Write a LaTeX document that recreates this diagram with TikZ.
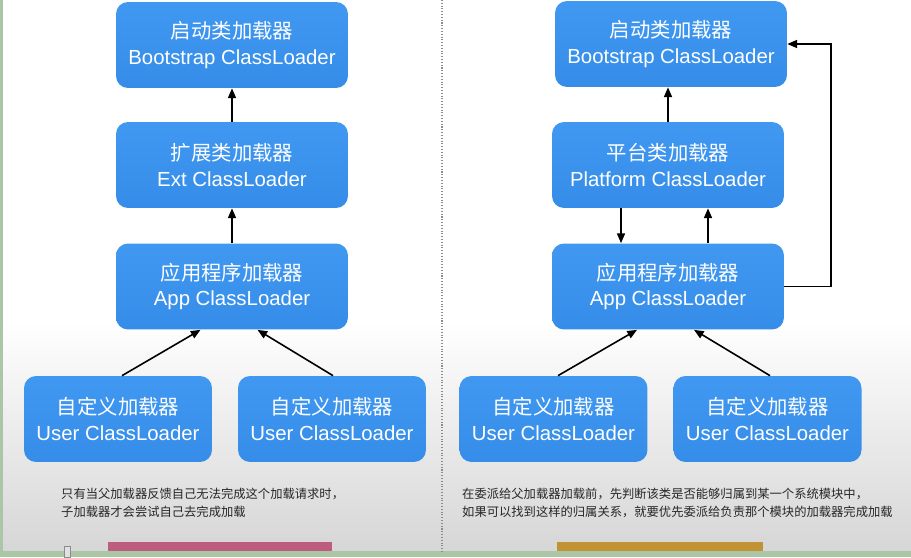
\documentclass[tikz,border=0pt]{standalone}
\usepackage{fontspec}
\setmainfont{Liberation Sans}
\newfontfamily\cjk{Noto Sans CJK SC}
\usetikzlibrary{arrows.meta, calc}
\definecolor{loaderblue}{RGB}{64,152,241}
\definecolor{loaderblueb}{RGB}{54,141,233}
\definecolor{framegreen}{RGB}{170,198,165}
\definecolor{barpink}{RGB}{190,92,126}
\definecolor{barorange}{RGB}{194,147,52}
\tikzset{
  loader/.style={
    rounded corners=12*0.02cm,
    top color=loaderblue, bottom color=loaderblueb, draw=none,
    text=white, align=center,
    minimum width=4.64cm, minimum height=1.72cm,
    font=\fontsize{11.6}{14.7}\selectfont
  },
  userloader/.style={loader, minimum width=3.76cm},
  delegate/.style={-{Triangle[length=5.5pt,width=4.5pt]}, line width=0.9pt, black},
  note/.style={anchor=west, align=left, text=black!85,
    font=\cjk\fontsize{7}{10.2}\selectfont}
}

\begin{document}
\begin{tikzpicture}[x=0.02cm, y=-0.02cm]
    \useasboundingbox (0,0) rectangle (911,557);
    % Background
    \fill[white] (0,0) rectangle (911,320);
    \shade[top color=white, bottom color=black!16] (0,320) rectangle (911,551);
    \fill[framegreen] (0,0) rectangle (3,557);
    \fill[framegreen] (0,551) rectangle (911,557);
    \draw[densely dotted, black!45, line width=0.6pt] (442,0) -- (442,551);
    \fill[barpink] (108,542) rectangle (332,551);
    \fill[barorange] (557,542) rectangle (763,551);
    \draw[black!45, fill=black!12] (64,546) rectangle (70,557);

    % Left: parent delegation
    \node[loader] (bootL) at (232,45) {{\cjk 启动类加载器}\\Bootstrap ClassLoader};
    \node[loader] (extL) at (232,165) {{\cjk 扩展类加载器}\\Ext ClassLoader};
    \node[loader] (appL) at (232,286.5) {{\cjk 应用程序加载器}\\App ClassLoader};
    \node[userloader] (userLa) at (118,419) {{\cjk 自定义加载器}\\User ClassLoader};
    \node[userloader] (userLb) at (332,419) {{\cjk 自定义加载器}\\User ClassLoader};

    \draw[delegate] (extL) -- (bootL);
    \draw[delegate] (appL) -- (extL);
    \draw[delegate] ($(userLa.north)+(4,0)$) -- ($(appL.south)+(-31.5,0)$);
    \draw[delegate] ($(userLb.north)+(1,0)$) -- ($(appL.south)+(25.5,0)$);

    \node[note] (noteL) at (55,503) {只有当父加载器反馈自己无法完成这个加载请求时，\\子加载器才会尝试自己去完成加载};

    % Right: module aware delegation
    \node[loader] (bootR) at (671,44) {{\cjk 启动类加载器}\\Bootstrap ClassLoader};
    \node[loader] (platR) at (668,165) {{\cjk 平台类加载器}\\Platform ClassLoader};
    \node[loader] (appR) at (668,286.5) {{\cjk 应用程序加载器}\\App ClassLoader};
    \node[userloader] (userRa) at (553.5,419) {{\cjk 自定义加载器}\\User ClassLoader};
    \node[userloader] (userRb) at (767.5,419) {{\cjk 自定义加载器}\\User ClassLoader};

    \draw[delegate] (platR.north) -- (platR.north |- bootR.south);
    \draw[delegate] ($(platR.south)+(-47,0)$) -- ($(appR.north)+(-47,0)$);
    \draw[delegate] ($(appR.north)+(40,0)$) -- ($(platR.south)+(40,0)$);
    \coordinate (loopR) at (831,0);
    \draw[delegate] (appR.east) -- (appR.east -| loopR) |- (bootR.east);
    \draw[delegate] ($(userRa.north)+(4.5,0)$) -- ($(appR.south)+(-31,0)$);
    \draw[delegate] ($(userRb.north)+(2.5,0)$) -- ($(appR.south)+(26,0)$);

    \node[note] (noteR) at (456,503) {在委派给父加载器加载前，先判断该类是否能够归属到某一个系统模块中，\\如果可以找到这样的归属关系，就要优先委派给负责那个模块的加载器完成加载};
\end{tikzpicture}
\end{document}
